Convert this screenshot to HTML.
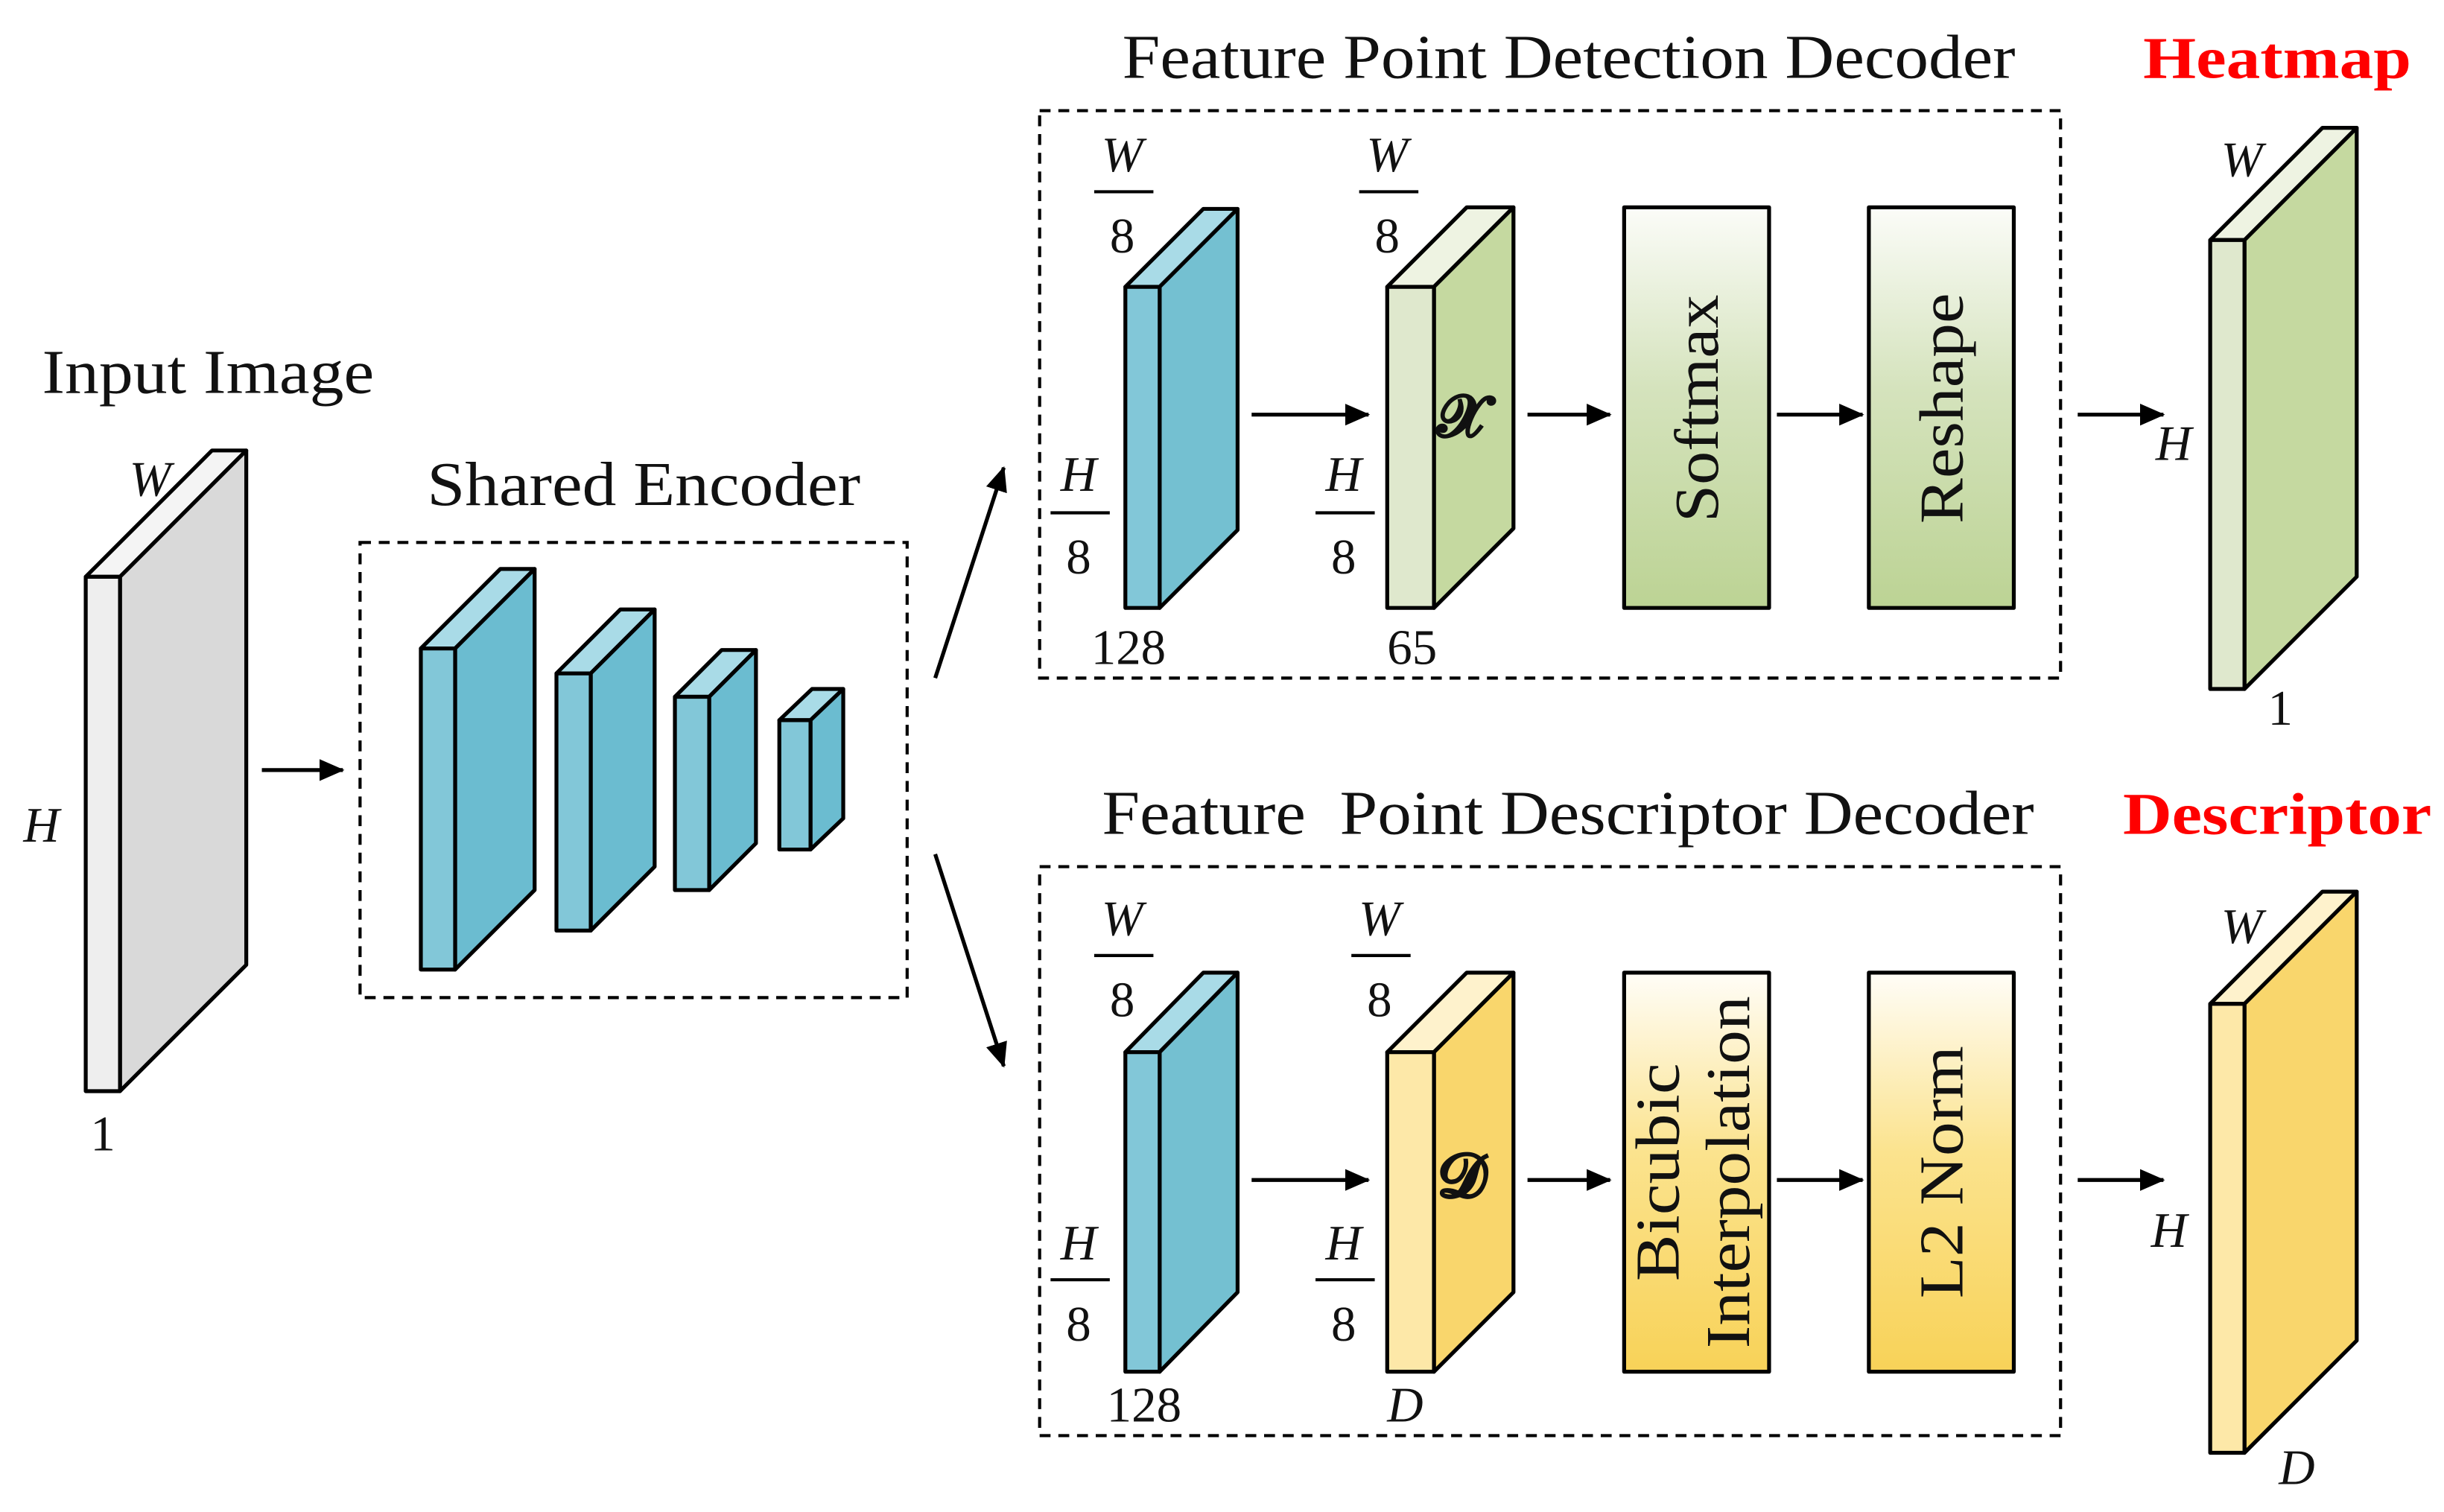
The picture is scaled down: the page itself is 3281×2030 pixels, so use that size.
<!DOCTYPE html>
<html><head><meta charset="utf-8"><style>
html,body{margin:0;padding:0;background:#fff;width:3281px;height:2030px;overflow:hidden}
svg{display:block}
text{font-family:"Liberation Serif",serif;fill:#111}
</style></head><body>
<svg width="3281" height="2030" viewBox="0 0 1568 970" preserveAspectRatio="none" xmlns="http://www.w3.org/2000/svg">
<defs>
<marker id="ah" markerWidth="16" markerHeight="14" refX="15" refY="7" orient="auto" markerUnits="userSpaceOnUse" viewBox="0 0 16 14">
<path d="M0,0 L16,7 L0,14 z" fill="#000"/></marker>
<linearGradient id="gg" x1="0" y1="0" x2="0" y2="1"><stop offset="0" stop-color="#fbfcf8"/><stop offset="0.45" stop-color="#d5e3bd"/><stop offset="1" stop-color="#bcd394"/></linearGradient>
<linearGradient id="gy" x1="0" y1="0" x2="0" y2="1"><stop offset="0" stop-color="#fffdf7"/><stop offset="0.45" stop-color="#fbe38e"/><stop offset="1" stop-color="#f8d258"/></linearGradient>
</defs>
<g stroke="#000" stroke-width="2.5" stroke-linejoin="round">
<polygon points="55,370 136,289 158,289 77,370" fill="#f4f4f4"/>
<polygon points="77,370 158,289 158,619 77,700" fill="#d9d9d9"/>
<rect x="55" y="370" width="22" height="330" fill="#eeeeee"/>
<polygon points="270,416 321,365 343,365 292,416" fill="#a9dbe7"/>
<polygon points="292,416 343,365 343,571 292,622" fill="#6bbcd0"/>
<rect x="270" y="416" width="22" height="206" fill="#82c7d8"/>
<polygon points="357,432 398,391 420,391 379,432" fill="#a9dbe7"/>
<polygon points="379,432 420,391 420,556 379,597" fill="#6bbcd0"/>
<rect x="357" y="432" width="22" height="165" fill="#82c7d8"/>
<polygon points="433,447 463,417 485,417 455,447" fill="#a9dbe7"/>
<polygon points="455,447 485,417 485,541 455,571" fill="#6bbcd0"/>
<rect x="433" y="447" width="22" height="124" fill="#82c7d8"/>
<polygon points="500,462 521,442 541,442 520,462" fill="#a9dbe7"/>
<polygon points="520,462 541,442 541,525 520,545" fill="#6bbcd0"/>
<rect x="500" y="462" width="20" height="83" fill="#82c7d8"/>
<polygon points="722,184 772,134 794,134 744,184" fill="#a9dbe7"/>
<polygon points="744,184 794,134 794,340 744,390" fill="#74c0d1"/>
<rect x="722" y="184" width="22" height="206" fill="#82c7d8"/>
<polygon points="890,184 941,133 971,133 920,184" fill="#eef3e2"/>
<polygon points="920,184 971,133 971,339 920,390" fill="#c5d9a0"/>
<rect x="890" y="184" width="30" height="206" fill="#dfe8cd"/>
<rect x="1042" y="133" width="93" height="257" fill="url(#gg)"/>
<rect x="1199" y="133" width="93" height="257" fill="url(#gg)"/>
<polygon points="1418,154 1490,82 1512,82 1440,154" fill="#eef3e2"/>
<polygon points="1440,154 1512,82 1512,370 1440,442" fill="#c5d9a0"/>
<rect x="1418" y="154" width="22" height="288" fill="#dfe8cd"/>
<polygon points="722,675 772,624 794,624 744,675" fill="#a9dbe7"/>
<polygon points="744,675 794,624 794,829 744,880" fill="#74c0d1"/>
<rect x="722" y="675" width="22" height="205" fill="#82c7d8"/>
<polygon points="890,675 941,624 971,624 920,675" fill="#fef2cc"/>
<polygon points="920,675 971,624 971,829 920,880" fill="#f9d66c"/>
<rect x="890" y="675" width="30" height="205" fill="#fde8a8"/>
<rect x="1042" y="624" width="93" height="256" fill="url(#gy)"/>
<rect x="1199" y="624" width="93" height="256" fill="url(#gy)"/>
<polygon points="1418,644 1490,572 1512,572 1440,644" fill="#fef2cc"/>
<polygon points="1440,644 1512,572 1512,860 1440,932" fill="#f9d66c"/>
<rect x="1418" y="644" width="22" height="288" fill="#fde8a8"/>
</g>
<g fill="none" stroke="#000" stroke-width="2" stroke-dasharray="7,5">
<rect x="231" y="348" width="351" height="292"/>
<rect x="667" y="71" width="655" height="364"/>
<rect x="667" y="556" width="655" height="365"/>
</g>
<g stroke="#000" stroke-width="2.5" marker-end="url(#ah)">
<line x1="168" y1="494" x2="220" y2="494"/>
<line x1="600" y1="435" x2="644" y2="300"/>
<line x1="600" y1="548" x2="644" y2="684"/>
<line x1="803" y1="266" x2="878" y2="266"/>
<line x1="980" y1="266" x2="1033" y2="266"/>
<line x1="1140" y1="266" x2="1195" y2="266"/>
<line x1="1333" y1="266" x2="1388" y2="266"/>
<line x1="803" y1="757" x2="878" y2="757"/>
<line x1="980" y1="757" x2="1033" y2="757"/>
<line x1="1140" y1="757" x2="1195" y2="757"/>
<line x1="1333" y1="757" x2="1388" y2="757"/>
</g>
<g font-size="40">
<text x="27" y="252" textLength="213" lengthAdjust="spacingAndGlyphs">Input Image</text>
<text x="274" y="324" textLength="278" lengthAdjust="spacingAndGlyphs">Shared Encoder</text>
<text x="720" y="50" textLength="573" lengthAdjust="spacingAndGlyphs">Feature Point Detection Decoder</text>
<text x="707" y="535" xml:space="preserve" textLength="598" lengthAdjust="spacingAndGlyphs">Feature  Point Descriptor Decoder</text>
</g>
<text x="1375" y="50" font-size="38" font-weight="bold" style="fill:#f00" textLength="172" lengthAdjust="spacingAndGlyphs">Heatmap</text>
<text x="1362" y="535" font-size="38" font-weight="bold" style="fill:#f00" textLength="198" lengthAdjust="spacingAndGlyphs">Descriptor</text>
<g font-size="40" text-anchor="middle">
<text transform="translate(1102,262) rotate(-90)" textLength="146" lengthAdjust="spacingAndGlyphs">Softmax</text>
<text transform="translate(1259,262) rotate(-90)" textLength="148" lengthAdjust="spacingAndGlyphs">Reshape</text>
<text transform="translate(1077,752) rotate(-90)" textLength="140" lengthAdjust="spacingAndGlyphs">Bicubic</text>
<text transform="translate(1122,752) rotate(-90)" textLength="226" lengthAdjust="spacingAndGlyphs">Interpolation</text>
<text transform="translate(1259,752) rotate(-90)" textLength="162" lengthAdjust="spacingAndGlyphs">L2 Norm</text>
</g>
<g font-size="32">
<text x="83" y="318" font-style="italic">W</text>
<text x="15" y="540" font-style="italic">H</text>
<text x="58" y="738">1</text>
<text x="700" y="426">128</text>
<text x="890" y="426">65</text>
<text x="1455" y="465">1</text>
<text x="1425" y="113" font-style="italic">W</text>
<text x="1383" y="295" font-style="italic">H</text>
<text x="710" y="912">128</text>
<text x="890" y="912" font-style="italic">D</text>
<text x="1425" y="605" font-style="italic">W</text>
<text x="1380" y="800" font-style="italic">H</text>
<text x="1462" y="952" font-style="italic">D</text>
<text x="922" y="280" font-size="38" font-weight="bold" style="stroke:#111;stroke-width:1">𝒳</text>
<text x="922" y="768" font-size="40" font-weight="bold" style="stroke:#111;stroke-width:1">𝒟</text>
</g>
<g font-size="32" text-anchor="middle">
<text x="720" y="110" font-style="italic">W</text><text x="720" y="162">8</text>
<text x="692" y="315" font-style="italic">H</text><text x="692" y="368">8</text>
<text x="890" y="110" font-style="italic">W</text><text x="890" y="162">8</text>
<text x="862" y="315" font-style="italic">H</text><text x="862" y="368">8</text>
<text x="720" y="600" font-style="italic">W</text><text x="720" y="652">8</text>
<text x="885" y="600" font-style="italic">W</text><text x="885" y="652">8</text>
<text x="692" y="808" font-style="italic">H</text><text x="692" y="860">8</text>
<text x="862" y="808" font-style="italic">H</text><text x="862" y="860">8</text>
</g>
<g stroke="#000" stroke-width="2">
<line x1="702" y1="123" x2="740" y2="123"/>
<line x1="674" y1="329" x2="712" y2="329"/>
<line x1="872" y1="123" x2="910" y2="123"/>
<line x1="844" y1="329" x2="882" y2="329"/>
<line x1="702" y1="613" x2="740" y2="613"/>
<line x1="674" y1="821" x2="712" y2="821"/>
<line x1="867" y1="613" x2="905" y2="613"/>
<line x1="844" y1="821" x2="882" y2="821"/>
</g>
</svg>
</body></html>
